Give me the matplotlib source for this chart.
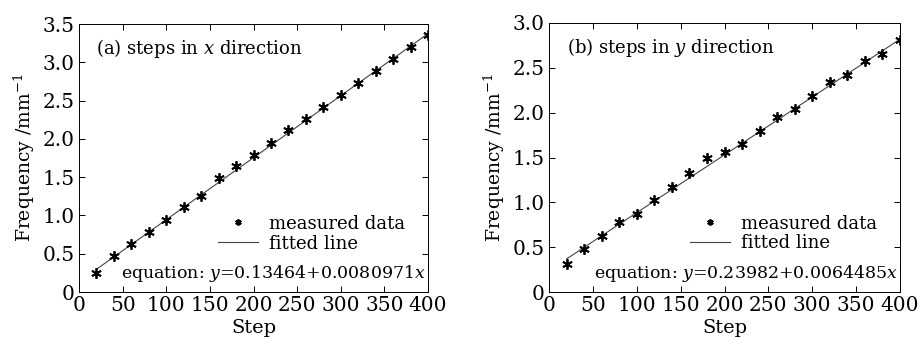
import numpy as np
import matplotlib
matplotlib.use('Agg')
import matplotlib.pyplot as plt
from matplotlib.ticker import FuncFormatter

plt.rcParams['font.family'] = 'DejaVu Serif'
plt.rcParams['mathtext.fontset'] = 'dejavuserif'
plt.rcParams['font.size'] = 12

# step numbers (shared)
steps = [20, 40, 60, 80, 100, 120, 140, 160, 180, 200,
         220, 240, 260, 280, 300, 320, 340, 360, 380, 400]

# (a) measured frequency, steps in x direction
freq_x = [0.244, 0.475, 0.627, 0.784, 0.945, 1.106, 1.258, 1.485, 1.641, 1.789,
          1.946, 2.111, 2.264, 2.421, 2.573, 2.725, 2.886, 3.039, 3.200, 3.352]
# (b) measured frequency, steps in y direction
freq_y = [0.316, 0.479, 0.624, 0.784, 0.865, 1.021, 1.166, 1.329, 1.489, 1.563,
          1.645, 1.794, 1.953, 2.039, 2.191, 2.339, 2.425, 2.577, 2.659, 2.815]

# fit coefficients as printed on the chart
fit_a = (0.13464, 0.0080971)
fit_b = (0.23982, 0.0064485)

panels = [
    ('(a) steps in $x$ direction', freq_x, fit_a, '0.13464', '0.0080971', 3.5),
    ('(b) steps in $y$ direction', freq_y, fit_b, '0.23982', '0.0064485', 3.0),
]

fig = plt.figure(figsize=(9.18, 3.38), dpi=100)
boxes = [[79/918, 1 - 292/338, 349/918, 268/338],
         [549/918, 1 - 292/338, 351/918, 269/338]]

def fmt(v, pos):
    return '0' if abs(v) < 1e-9 else '%.1f' % v

for box, (title, freq, (b0, b1), s0, s1, ymax) in zip(boxes, panels):
    ax = fig.add_axes(box)
    xs = np.array(steps)
    ax.plot(xs, b0 + b1 * xs, color='#444444', lw=0.8, label='fitted line')
    ax.plot(steps, freq, ls='none', marker=(6, 2, 0), ms=7.5, mew=1.3,
            color='black', label='measured data')
    ax.set_xlim(0, 400)
    ax.set_ylim(0, ymax)
    ax.set_xticks(np.arange(0, 401, 50))
    ax.set_yticks(np.arange(0, ymax + 0.01, 0.5))
    ax.yaxis.set_major_formatter(FuncFormatter(fmt))
    ax.tick_params(direction='in', top=True, right=True, length=4, width=0.7,
                   labelsize=14.5)
    ax.tick_params(axis='x', pad=3)
    ax.tick_params(axis='y', pad=3)
    for sp in ax.spines.values():
        sp.set_linewidth(0.7)
    ax.set_xlabel('Step', fontsize=14, labelpad=3)
    ax.set_ylabel('Frequency /mm$^{-1}$', fontsize=13.5, labelpad=4)
    ax.text(0.05, 0.91, title, transform=ax.transAxes, fontsize=13, va='center')
    ax.text(0.995, 0.07, 'equation: $y$=%s+%s$x$' % (s0, s1),
            transform=ax.transAxes, fontsize=12.5, ha='right', va='center')
    h, l = ax.get_legend_handles_labels()
    ax.legend([h[1], h[0]], [l[1], l[0]], loc='lower right',
              bbox_to_anchor=(0.97, 0.10), frameon=False, fontsize=13,
              handlelength=2.2, handletextpad=0.6, labelspacing=0.1,
              borderpad=0.2, markerscale=0.6)

fig.savefig('out.png', dpi=100)
